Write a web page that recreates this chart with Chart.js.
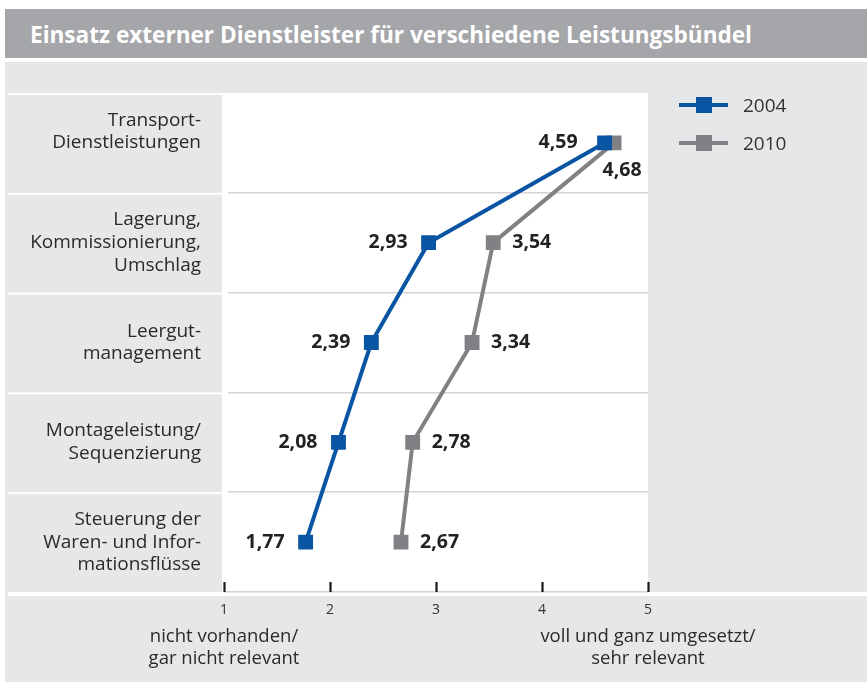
<!DOCTYPE html>
<html>
<head>
<meta charset="utf-8">
<script src="https://cdn.jsdelivr.net/npm/chart.js@4.4.1/dist/chart.umd.min.js"></script>
<style>
  html, body { margin: 0; padding: 0; background: #ffffff; }
  #wrap { position: relative; width: 867px; height: 682px; overflow: hidden; }
  #c { position: absolute; left: 0; top: 0; }
  #title {
    position: absolute; left: 5px; top: 9px; width: 862px; height: 49px;
    background: #a5a6a9;
  }
  #titleText {
    position: absolute; left: 25px; top: 0; color: #ffffff;
    font-family: "Open Sans", sans-serif; font-weight: bold; font-size: 24px;
    line-height: 49px; white-space: nowrap; transform-origin: 0 50%;
  }
  #legend { position: absolute; left: 679px; top: 93px; }
  .li { position: relative; height: 38px; width: 160px; }
  .ln { position: absolute; left: 0; top: 10px; width: 49px; height: 4px; }
  .sq { position: absolute; left: 17px; top: 4px; width: 16px; height: 16px; }
  .lt { position: absolute; left: 64px; top: 0px; font-family: "Open Sans", sans-serif; font-size: 19px; color: #333; line-height: 24px; }
</style>
</head>
<body>
<div id="wrap">
  <canvas id="c" width="867" height="682"></canvas>
  <div id="title"><span id="titleText">Einsatz externer Dienstleister für verschiedene Leistungsbündel</span></div>
  <div id="legend"></div>
</div>
<script>
const categories = [
  ["Transport-", "Dienstleistungen", ""],
  ["Lagerung,", "Kommissionierung,", "Umschlag"],
  ["Leergut-", "management"],
  ["Montageleistung/", "Sequenzierung"],
  ["Steuerung der", "Waren- und Infor-", "mationsflüsse"]
];
const seriesNames = ["2004", "2010"];
const values2004 = [4.59, 2.93, 2.39, 2.08, 1.77];
const values2010 = [4.68, 3.54, 3.34, 2.78, 2.67];
const scaleTicks = [1, 2, 3, 4, 5];
const scaleEndLabels = {
  1: ["nicht vorhanden/", "gar nicht relevant"],
  5: ["voll und ganz umgesetzt/", "sehr relevant"]
};
const colors = ["#0a55a3", "#808184"];

(function () {
  const t = document.getElementById('titleText');
  const w = t.getBoundingClientRect().width;
  if (w > 0) t.style.transform = 'scaleX(' + (722 / w) + ')';
})();

function fmt(v) { return v.toFixed(2).replace('.', ','); }

const bgPlugin = {
  id: 'bg',
  beforeDraw(chart) {
    const ctx = chart.ctx, a = chart.chartArea;
    ctx.save();
    ctx.fillStyle = '#e6e7e8';
    ctx.fillRect(5, 62, 862, 620);
    ctx.fillStyle = '#ffffff';
    ctx.fillRect(8, a.top, a.right - 8, a.bottom - a.top + 4);
    ctx.fillRect(8, a.bottom, 867 - 8, 4);
    ctx.fillStyle = '#e6e7e8';
    const n = categories.length;
    const band = (a.bottom - a.top) / n;
    for (let i = 0; i < n; i++) {
      const top = a.top + i * band + 2;
      const bot = a.top + (i + 1) * band;
      ctx.fillRect(8, top, a.left - 2 - 8, bot - top);
    }
    ctx.restore();
  },
  beforeDatasetsDraw(chart) {
    // keep a small white gap at the start of each separator line, as in the original
    const ctx = chart.ctx, a = chart.chartArea;
    ctx.save();
    ctx.fillStyle = '#ffffff';
    ctx.fillRect(a.left - 2, a.top, 6, a.bottom - a.top - 12);
    ctx.restore();
  }
};

const labelPlugin = {
  id: 'vals',
  afterDatasetsDraw(chart) {
    const ctx = chart.ctx;
    ctx.save();
    ctx.font = 'bold 19.5px "Open Sans", sans-serif';
    ctx.fillStyle = '#222222';
    ctx.textBaseline = 'middle';
    chart.getDatasetMeta(0).data.forEach((p, i) => {
      ctx.textAlign = 'right';
      const off = i === 0 ? 27 : 21;
      ctx.fillText(fmt(values2004[i]), p.x - off, p.y);
    });
    chart.getDatasetMeta(1).data.forEach((p, i) => {
      if (i === 0) {
        ctx.textAlign = 'center';
        ctx.fillText(fmt(values2010[i]), p.x + 8, p.y + 28);
      } else {
        ctx.textAlign = 'left';
        ctx.fillText(fmt(values2010[i]), p.x + 19, p.y);
      }
    });
    ctx.restore();
  }
};

const chart = new Chart(document.getElementById('c'), {
  type: 'line',
  data: {
    labels: categories,
    datasets: [
      { label: seriesNames[0], data: values2004, borderColor: colors[0], backgroundColor: colors[0],
        borderWidth: 4, pointStyle: 'rect', pointRadius: 10.5, pointBorderWidth: 0, pointHoverRadius: 10.5 },
      { label: seriesNames[1], data: values2010, borderColor: colors[1], backgroundColor: colors[1],
        borderWidth: 4, pointStyle: 'rect', pointRadius: 10.5, pointBorderWidth: 0, pointHoverRadius: 10.5 }
    ]
  },
  options: {
    indexAxis: 'y',
    responsive: false,
    animation: false,
    events: [],
    layout: { padding: { left: 0, right: 219, top: 93, bottom: 0 } },
    plugins: { legend: { display: false }, tooltip: { enabled: false }, title: { display: false } },
    scales: {
      y: {
        type: 'category',
        position: 'left',
        offset: true,
        border: { display: false },
        grid: {
          offset: true, drawTicks: false,
          color: (c) => (c.index === 0 || c.index === categories.length) ? 'rgba(0,0,0,0)' : '#d4d4d4',
          lineWidth: 1.5
        },
        ticks: { padding: 23, color: '#2a2a2a', font: { family: '"Open Sans", sans-serif', size: 19, lineHeight: 1.19 } },
        afterFit(s) { s.width = 224; }
      },
      x: {
        type: 'linear', position: 'bottom', min: 1, max: 5, weight: 0,
        afterBuildTicks(s) { s.ticks = scaleTicks.map(v => ({ value: v })); },
        border: { display: false },
        grid: { drawOnChartArea: false, drawTicks: true, tickLength: -10, tickWidth: 2.2, tickColor: '#1a1a1a' },
        ticks: { padding: 20, color: '#333333', font: { family: '"Open Sans", sans-serif', size: 14 } },
        afterFit(s) { s.height = 30; }
      },
      x2: {
        type: 'linear', position: 'bottom', min: 1, max: 5, weight: 1,
        afterBuildTicks(s) { s.ticks = Object.keys(scaleEndLabels).map(v => ({ value: Number(v) })); },
        border: { display: false },
        grid: { display: false, drawTicks: false },
        ticks: {
          padding: 4, color: '#2a2a2a', maxRotation: 0, autoSkip: false,
          font: { family: '"Open Sans", sans-serif', size: 18.5, lineHeight: 1.17 },
          callback: (v) => scaleEndLabels[v] || ''
        },
        afterFit(s) { s.height = 60; }
      }
    }
  },
  plugins: [bgPlugin, labelPlugin]
});

const lg = document.getElementById('legend');
chart.data.datasets.forEach(ds => {
  const d = document.createElement('div'); d.className = 'li';
  d.innerHTML = '<div class="ln" style="background:' + ds.borderColor + '"></div>' +
    '<div class="sq" style="background:' + ds.borderColor + '"></div>' +
    '<div class="lt">' + ds.label + '</div>';
  lg.appendChild(d);
});
</script>
</body>
</html>
